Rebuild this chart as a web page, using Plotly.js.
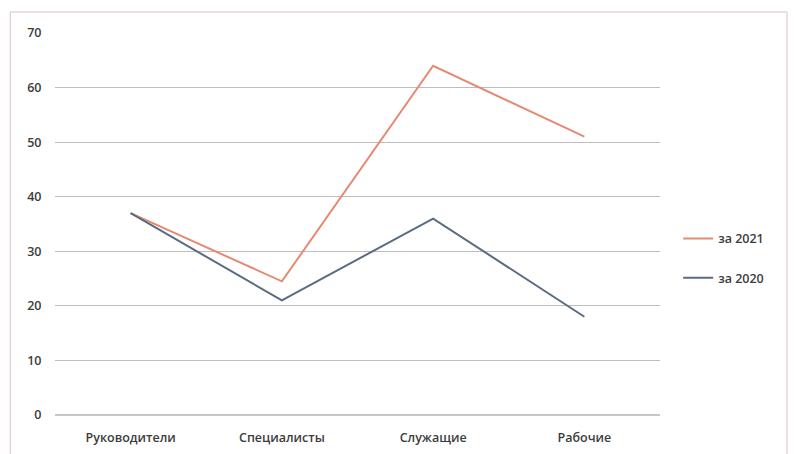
<!DOCTYPE html>
<html>
<head>
<meta charset="utf-8">
<script src="https://cdn.plot.ly/plotly-3.0.1.min.js"></script>
<style>html,body{margin:0;padding:0;background:#fff;}#chart{width:794px;height:454px;}</style>
</head>
<body>
<div id="chart"></div>
<script>
const categories = ["Руководители", "Специалисты", "Служащие", "Рабочие"];
const values2021 = [37, 24.5, 64, 51];
const values2020 = [37, 21, 36, 18];
const seriesNames = ["за 2021", "за 2020"];
const yTicks = [0, 10, 20, 30, 40, 50, 60, 70];

const traces = [
  {
    x: categories, y: values2021, name: seriesNames[0], type: "scatter", mode: "lines",
    line: {color: "#e58a72", width: 2}, legendgroup: "a"
  },
  {
    x: categories, y: values2020, name: seriesNames[1], type: "scatter", mode: "lines",
    line: {color: "#5b6b82", width: 2}, legendgroup: "b"
  }
];

const fnt = {family: "Open Sans, Liberation Sans, Arial, sans-serif", size: 12.5, color: "#3c3c3c", weight: 600};

const layout = {
  width: 794, height: 454,
  margin: {l: 55, r: 134, t: 33, b: 39},
  paper_bgcolor: "#ffffff", plot_bgcolor: "#ffffff",
  font: fnt,
  showlegend: true,
  legend: {
    x: 1.03, y: 0.41, xanchor: "left", yanchor: "middle",
    tracegroupgap: 20, traceorder: "grouped",
    font: fnt, bgcolor: "rgba(0,0,0,0)"
  },
  xaxis: {
    type: "category", range: [-0.5, 3.5], showgrid: false, zeroline: false,
    showline: false, ticks: "outside", ticklen: 11, tickcolor: "rgba(0,0,0,0)",
    tickfont: fnt, fixedrange: true
  },
  yaxis: {
    range: [0, 70], tickvals: yTicks, showgrid: true, gridcolor: "#bdbdbd", gridwidth: 1,
    zeroline: true, zerolinecolor: "#c8c8c8", zerolinewidth: 2, showline: false,
    ticks: "outside", ticklen: 10, tickcolor: "rgba(0,0,0,0)",
    tickfont: fnt, fixedrange: true
  },
  shapes: [
    {type: "rect", xref: "paper", yref: "paper", x0: -0.074, x1: 1.21, y0: -0.12, y1: 1.055,
     line: {color: "#d9c4c0", width: 1}, fillcolor: "rgba(0,0,0,0)", layer: "below"}
  ]
};

Plotly.newPlot("chart", traces, layout, {displayModeBar: false, staticPlot: true});
</script>
</body>
</html>
